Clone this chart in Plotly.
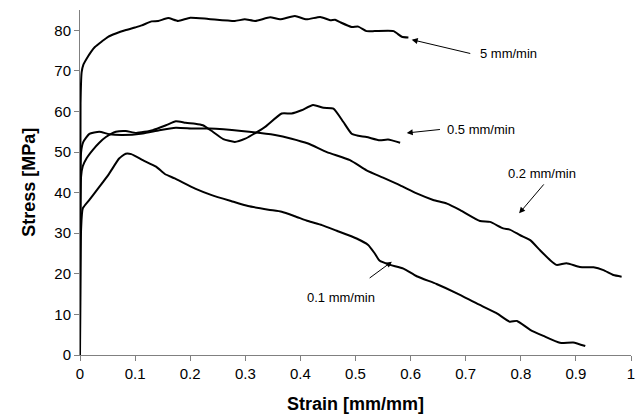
import plotly.graph_objects as go

# ---- data ----
strain_5 = [0, 0.001, 0.003, 0.006, 0.012, 0.02, 0.027, 0.04, 0.051, 0.065, 0.082, 0.1, 0.112, 0.13, 0.142,
            0.16, 0.178, 0.2, 0.233, 0.281, 0.299, 0.318, 0.345, 0.363, 0.39, 0.411, 0.436, 0.454, 0.463,
            0.472, 0.493, 0.505, 0.52, 0.535, 0.569, 0.584, 0.596]
stress_5 = [0, 62, 69.7, 71.5, 73, 74.7, 75.9, 77.3, 78.4, 79.2, 80, 80.7, 81.2, 82.2, 82.3,
            83.0, 82.3, 83.1, 82.8, 82.3, 82.7, 82.3, 83.2, 82.7, 83.5, 82.7, 83.3, 82.5, 82.6,
            82.0, 80.8, 80.9, 79.8, 79.8, 79.8, 78.4, 78.2]

strain_05 = [0, 0.002, 0.005, 0.012, 0.023, 0.035, 0.047, 0.065, 0.083, 0.102, 0.132, 0.156, 0.174, 0.192,
             0.209, 0.223, 0.241, 0.26, 0.281, 0.3, 0.312, 0.336, 0.366, 0.384, 0.402, 0.423, 0.442, 0.46,
             0.478, 0.493, 0.505, 0.52, 0.544, 0.559, 0.581]
stress_05 = [0, 44, 46.5, 48.5, 50.5, 52.3, 53.7, 55.0, 55.2, 54.7, 55.4, 56.6, 57.6, 57.2,
             57.0, 56.6, 55.0, 53.2, 52.5, 53.3, 54.2, 56.2, 59.5, 59.5, 60.3, 61.6, 60.9, 60.7,
             57.4, 54.5, 54.0, 53.7, 52.9, 53.1, 52.3]

strain_02 = [0, 0.002, 0.006, 0.017, 0.035, 0.053, 0.077, 0.114, 0.144, 0.174, 0.205, 0.235, 0.293, 0.354,
             0.384, 0.414, 0.448, 0.49, 0.52, 0.55, 0.581, 0.611, 0.641, 0.666, 0.69, 0.726, 0.744, 0.768,
             0.78, 0.799, 0.817, 0.835, 0.853, 0.865, 0.883, 0.907, 0.932, 0.95, 0.968, 0.983]
stress_02 = [0, 50, 52.5, 54.5, 55.0, 54.4, 54.2, 54.6, 55.4, 56.0, 55.8, 55.8, 55.2, 54.2,
             53.3, 52.1, 50.0, 48.0, 45.5, 43.7, 41.8, 39.8, 38.2, 37.3, 35.7, 33.0, 32.8, 31.2,
             30.9, 29.5, 28.3, 25.8, 23.4, 22.2, 22.6, 21.7, 21.6, 20.9, 19.7, 19.3]

strain_01 = [0, 0.002, 0.005, 0.017, 0.035, 0.053, 0.071, 0.083, 0.093, 0.114, 0.138, 0.154, 0.172, 0.209,
             0.239, 0.275, 0.305, 0.342, 0.366, 0.39, 0.414, 0.439, 0.466, 0.502, 0.523, 0.535, 0.544,
             0.563, 0.587, 0.611, 0.647, 0.684, 0.72, 0.756, 0.78, 0.793, 0.817, 0.841, 0.871, 0.895, 0.917]
stress_01 = [0, 31, 36.1, 38.2, 41.4, 44.7, 48.4, 49.6, 49.5, 48.0, 46.4, 44.6, 43.5, 41.0,
             39.4, 37.9, 36.7, 35.8, 35.3, 34.2, 33.0, 32.0, 30.6, 28.7, 27.1, 25.0, 23.2,
             22.2, 21.3, 19.4, 17.5, 15.2, 12.7, 10.3, 8.2, 8.4, 6.2, 4.7, 3.0, 3.1, 2.2]

x_tick_vals = [0, 0.1, 0.2, 0.3, 0.4, 0.5, 0.6, 0.7, 0.8, 0.9, 1]
x_tick_text = ["0", "0.1", "0.2", "0.3", "0.4", "0.5", "0.6", "0.7", "0.8", "0.9", "1"]
y_tick_vals = [0, 10, 20, 30, 40, 50, 60, 70, 80]

series_names = ["5 mm/min", "0.5 mm/min", "0.2 mm/min", "0.1 mm/min"]

# label placement (data coords)
label_x = [0.777, 0.728, 0.838, 0.473]
label_y = [74.4, 55.5, 44.7, 14.2]
arrow_tail_x = [0.711, 0.656, 0.844, 0.523]
arrow_tail_y = [74.2, 55.6, 42.4, 18.7]
arrow_head_x = [0.602, 0.593, 0.797, 0.566]
arrow_head_y = [77.7, 54.7, 34.9, 23.0]

FONT = "Liberation Sans, Arial, sans-serif"

fig = go.Figure()
for xs, ys, nm in [(strain_5, stress_5, series_names[0]),
                   (strain_05, stress_05, series_names[1]),
                   (strain_02, stress_02, series_names[2]),
                   (strain_01, stress_01, series_names[3])]:
    fig.add_trace(go.Scatter(x=xs, y=ys, mode="lines", name=nm,
                             line=dict(color="black", width=2, shape="spline", smoothing=0.5),
                             showlegend=False))

annotations = []
for i in range(len(series_names)):
    annotations.append(dict(x=arrow_head_x[i], y=arrow_head_y[i], ax=arrow_tail_x[i], ay=arrow_tail_y[i],
                            xref="x", yref="y", axref="x", ayref="y", text="", showarrow=True,
                            arrowhead=2, arrowsize=1.2, arrowwidth=1, arrowcolor="black"))
    annotations.append(dict(x=label_x[i], y=label_y[i], xref="x", yref="y", text=series_names[i],
                            showarrow=False, font=dict(family=FONT, size=13, color="black")))

# axis titles as paper annotations for precise placement
annotations.append(dict(x=0.5, y=-0.143, xref="paper", yref="paper", xanchor="center", yanchor="middle",
                        text="<b>Strain [mm/mm]</b>", showarrow=False,
                        font=dict(family=FONT, size=18, color="black")))
annotations.append(dict(x=-0.094, y=0.5, xref="paper", yref="paper", xanchor="center", yanchor="middle",
                        text="<b>Stress [MPa]</b>", showarrow=False, textangle=-90,
                        font=dict(family=FONT, size=18, color="black")))

fig.update_layout(
    width=644, height=414,
    margin=dict(l=80, r=13, t=10, b=59),
    paper_bgcolor="white", plot_bgcolor="white",
    font=dict(family=FONT, color="black"),
    annotations=annotations,
    xaxis=dict(range=[0, 1], tickvals=x_tick_vals, ticktext=x_tick_text, automargin=False,
               showgrid=False, zeroline=False, showline=True, linecolor="#808080", linewidth=1,
               ticks="outside", ticklen=5, tickcolor="#808080",
               tickfont=dict(family=FONT, size=15, color="black")),
    yaxis=dict(range=[0, 85], tickvals=y_tick_vals, automargin=False,
               showgrid=False, zeroline=False, showline=True, linecolor="#808080", linewidth=1,
               ticks="outside", ticklen=5, tickcolor="#808080",
               tickfont=dict(family=FONT, size=15, color="black")),
)

fig.write_html("out.html", config={"displayModeBar": False},
               post_script="document.body.style.margin='0';")
